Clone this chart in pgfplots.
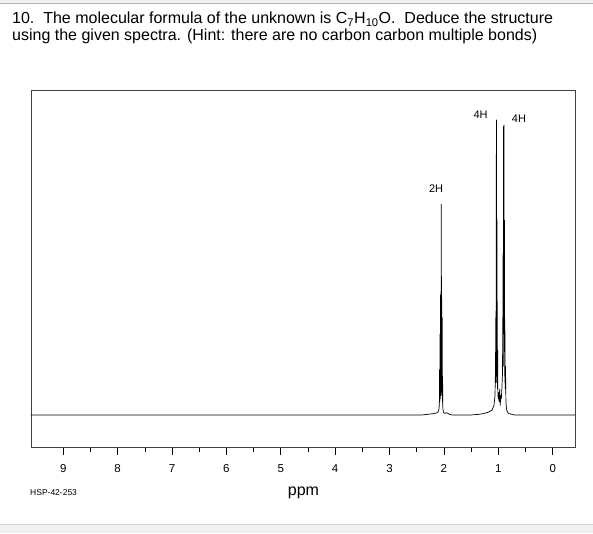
\documentclass[border=0pt]{standalone}
\usepackage{pgfplots}
\pgfplotsset{compat=1.18}
\usepackage{fontspec}
\setmainfont{Liberation Sans}

% 1H NMR spectrum (ppm, intensity)
\pgfplotstableread{
ppm    I
9.60   0
3.00   0
2.40   0
2.30   0.2
2.20   0.4
2.14   0.6
2.11   0.9
2.095  1.5
2.085  3
2.080  14
2.077  4
2.072  25
2.068  5
2.064  37
2.060  6
2.056  38
2.052  7
2.048  65
2.045  8
2.041  36
2.037  6
2.033  30
2.029  4
2.025  12
2.020  2
2.010  1
2.000  0.6
1.980  0.5
1.960  0.7
1.930  0.5
1.900  0.2
1.850  0
1.500  0
1.350  0.2
1.280  0.4
1.190  0.8
1.116  1.5
1.079  3
1.061  6
1.051  15
1.048  30
1.045  10
1.042  32
1.039  12
1.036  89
1.034  20
1.032  91
1.029  15
1.026  60
1.023  10
1.020  35
1.016  8
1.012  20
1.008  6
1.000  5
0.990  7
0.985  4
0.975  8
0.965  3
0.955  6
0.945  5
0.935  8
0.925  12
0.918  25
0.912  50
0.908  15
0.904  89
0.900  30
0.896  89.4
0.892  25
0.888  60
0.884  12
0.880  30
0.875  8
0.868  15
0.860  4
0.850  2
0.840  1.2
0.820  0.6
0.800  0.4
0.750  0.2
0.700  0
-0.45  0
}\spectrum

\begin{document}
\begin{tikzpicture}[x=1pt,y=1pt]
\path[use as bounding box] (0,0) rectangle (593,533);
% page bands
\fill[gray!12] (0,533) rectangle (593,530);
\draw[gray!60, line width=0.8pt] (0,529.5) -- (593,529.5);
\fill[gray!12] (0,0) rectangle (593,9);
\draw[gray!35, line width=0.6pt] (0,9) -- (593,9);
% question text
\node[anchor=base west, inner sep=0pt, font=\fontsize{16}{19}\selectfont] at (12pt,509pt)
  {10.\ \ The molecular formula of the unknown is C\textsubscript{7}H\textsubscript{10}O.\ \ Deduce the structure};
\node[anchor=base west, inner sep=0pt, font=\fontsize{16}{19}\selectfont] at (12pt,492pt)
  {using the given spectra. (Hint: there are no carbon carbon multiple bonds)};
\begin{axis}[
  at={(31pt,85.3pt)}, anchor=south west,
  scale only axis, width=544pt, height=357pt,
  x dir=reverse,
  xmin=-0.41, xmax=9.594, ymin=-10.1, ymax=100,
  axis line style={black!75, line width=0.9pt},
  xtick={0,1,...,9}, minor x tick num=1,
  xtick pos=bottom, ytick=\empty,
  tick align=outside,
  major tick length=7pt, minor tick length=4pt,
  tick style={black, line width=0.7pt},
  xticklabel style={font=\fontsize{11.5}{13}\selectfont, yshift=-6pt},
  /pgf/number format/assume math mode=true,
  clip=true,
]
\addplot[black, line width=0.7pt, line join=round] table[x=ppm, y=I] {\spectrum};
\node[font=\fontsize{11}{12}\selectfont] at (axis cs:2.145,69.7) {2H};
\node[font=\fontsize{11}{12}\selectfont] at (axis cs:1.327,92.5) {4H};
\node[font=\fontsize{11}{12}\selectfont] at (axis cs:0.62,91.3) {4H};
\end{axis}
\node[font=\fontsize{16}{19}\selectfont, inner sep=0pt] at (303.5pt,40pt) {ppm};
\node[font=\fontsize{8.5}{10}\selectfont, anchor=west, inner sep=0pt] at (30pt,40.5pt) {HSP-42-253};
\end{tikzpicture}
\end{document}
